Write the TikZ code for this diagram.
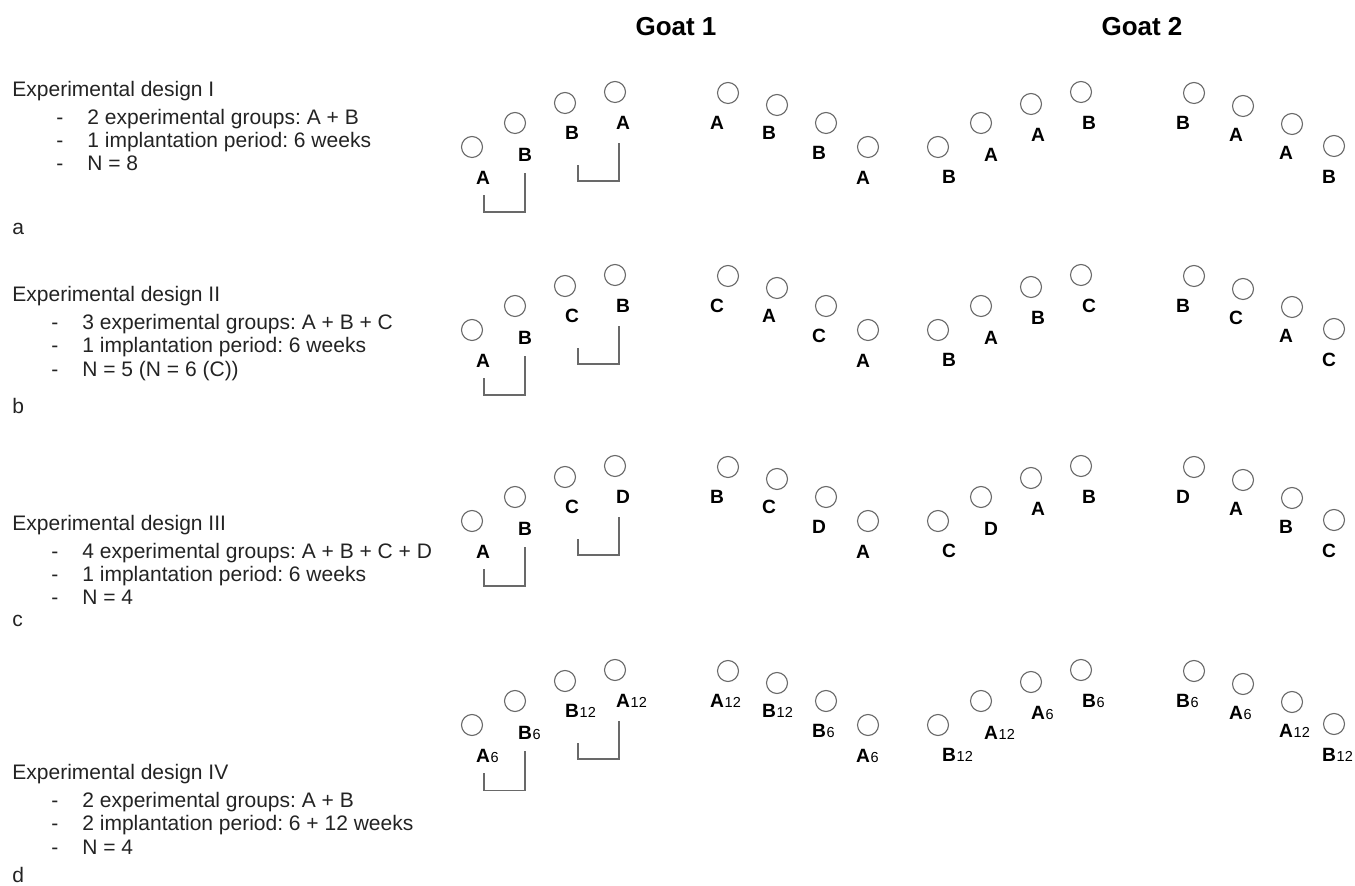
\documentclass[tikz,border=0pt]{standalone}
\usepackage{fontspec}
\setmainfont{Liberation Sans}
\usetikzlibrary{positioning,calc}
\definecolor{ringcolor}{RGB}{105,105,105}
\definecolor{textcolor}{RGB}{35,35,35}
\frenchspacing

% ring and label positions of the first row (pixels, y down)
\def\ringx{{472,515,565,615,728,777,826,868,938,981,1031,1081,1194,1243,1292,1334}}
\def\ringy{{147,123,103,92,93,105,123,147,147,123,104,92,93,106,124,146}}
\def\labx{{483,525,572,623,717,769,819,863,949,991,1038,1089,1183,1236,1286,1329}}
\def\laby{{178,155,133,123,123,133,153,178,177,155,135,123,123,135,153,177}}

\newcommand{\wk}[1]{\rlap{\kern0.4pt\fontsize{7.25}{8}\selectfont\mdseries #1}}
\newcommand{\dashitem}[1]{\makebox[15.5pt][l]{-}#1}

% one row of implants for both goats
\newcommand{\goatrow}[3]{%
  \foreach \lab [count=\k from 0] in {#3} {
    \pgfmathsetmacro{\rx}{\ringx[\k]}
    \pgfmathsetmacro{\ry}{\ringy[\k]+#2}
    \pgfmathsetmacro{\lx}{\labx[\k]}
    \pgfmathsetmacro{\ly}{\laby[\k]+#2}
    \node[ring] (ring-#1-\k) at (\rx,\ry) {};
    \node[implant] (lab-#1-\k) at (\lx,\ly) {\lab};
  }
  \draw[bracket] ([yshift=-5.6pt]lab-#1-1.south) -- ++(0,39) -| ++(-41,-17);
  \draw[bracket] ([xshift=-2pt,yshift=-6.6pt]lab-#1-3.south) -- ++(0,38) -| ++(-41,-16);
}

\begin{document}
\begin{tikzpicture}[x=0.5pt, y=-0.5pt,
        ring/.style={circle, draw=ringcolor, line width=0.55pt, minimum size=10.5pt, inner sep=0pt},
        implant/.style={inner sep=0pt, font=\fontsize{9.6}{11}\selectfont\bfseries},
        design/.style={anchor=base west, inner sep=0pt, text=textcolor, font=\fontsize{10.5}{12}\selectfont},
        goat/.style={inner sep=0pt, font=\fontsize{13}{15}\selectfont\bfseries},
        bracket/.style={draw=ringcolor, line width=0.75pt}]

    \useasboundingbox (0,0) rectangle (1355,886);

    % Goats
    \node[goat] (goat1) at (676,26.5) {Goat 1};
    \node[goat] (goat2) at (1142,26.5) {Goat 2};

    % Design I
    \node[design] (des-a) at (12,97) {Experimental design I};
    \node[design] (des-a-1) at (56,125) {\dashitem{2 experimental groups: A + B}};
    \node[design] (des-a-2) at (56,148) {\dashitem{1 implantation period: 6 weeks}};
    \node[design] (des-a-3) at (56,171) {\dashitem{N = 8}};
    \node[design] (tag-a) at (12,235) {a};
    \goatrow{a}{0}{A,B,B,A,A,B,B,A,B,A,A,B,B,A,A,B}

    % Design II
    \node[design] (des-b) at (12,302) {Experimental design II};
    \node[design] (des-b-1) at (51,330) {\dashitem{3 experimental groups: A + B + C}};
    \node[design] (des-b-2) at (51,353) {\dashitem{1 implantation period: 6 weeks}};
    \node[design] (des-b-3) at (51,377) {\dashitem{N = 5 (N = 6 (C))}};
    \node[design] (tag-b) at (12,414) {b};
    \goatrow{b}{183}{A,B,C,B,C,A,C,A,B,A,B,C,B,C,A,C}

    % Design III
    \node[design] (des-c) at (12,531) {Experimental design III};
    \node[design] (des-c-1) at (51,559) {\dashitem{4 experimental groups: A + B + C + D}};
    \node[design] (des-c-2) at (51,582) {\dashitem{1 implantation period: 6 weeks}};
    \node[design] (des-c-3) at (51,605) {\dashitem{N = 4}};
    \node[design] (tag-c) at (12,627) {c};
    \goatrow{c}{374}{A,B,C,D,B,C,D,A,C,D,A,B,D,A,B,C}

    % Design IV
    \node[design] (des-d) at (12,780) {Experimental design IV};
    \node[design] (des-d-1) at (51,808) {\dashitem{2 experimental groups: A + B}};
    \node[design] (des-d-2) at (51,831) {\dashitem{2 implantation period: 6 + 12 weeks}};
    \node[design] (des-d-3) at (51,855) {\dashitem{N = 4}};
    \node[design] (tag-d) at (12,883) {d};
    \goatrow{d}{578}{A\wk{6},B\wk{6},B\wk{12},A\wk{12},A\wk{12},B\wk{12},B\wk{6},A\wk{6},B\wk{12},A\wk{12},A\wk{6},B\wk{6},B\wk{6},A\wk{6},A\wk{12},B\wk{12}}

\end{tikzpicture}
\end{document}
